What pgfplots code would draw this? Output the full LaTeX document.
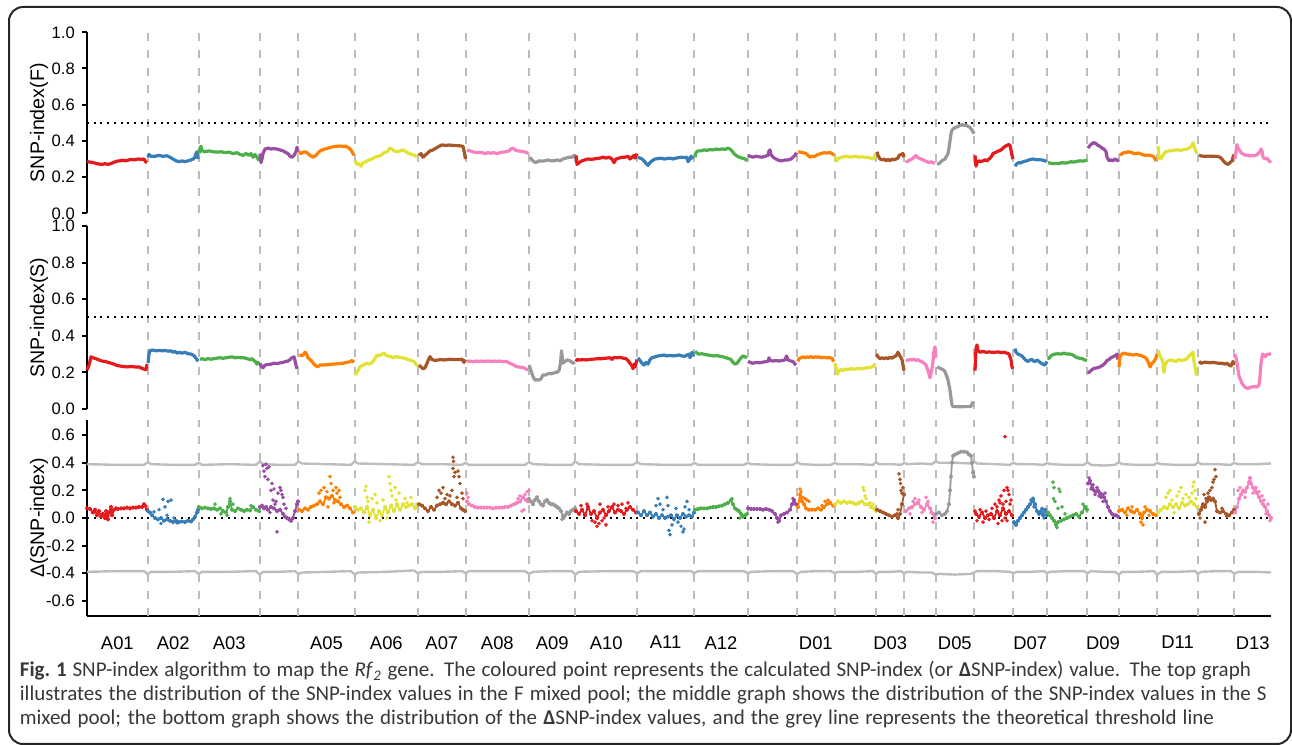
\documentclass[border=0pt]{standalone}
\usepackage{pgfplots}
\pgfplotsset{compat=1.18}
\usepackage{fontspec}
\setmainfont{Liberation Sans}
\newfontfamily\capfont{Carlito}
\definecolor{c1}{HTML}{E41A1C}
\definecolor{c2}{HTML}{377EB8}
\definecolor{c3}{HTML}{4DAF4A}
\definecolor{c4}{HTML}{984EA3}
\definecolor{c5}{HTML}{FF7F00}
\definecolor{c6}{HTML}{E2E234}
\definecolor{c7}{HTML}{A65628}
\definecolor{c8}{HTML}{F781BF}
\definecolor{c9}{HTML}{999999}
\definecolor{gridgrey}{HTML}{BDBDBD}
\definecolor{capgrey}{HTML}{383838}
\pgfplotsset{
  panel/.style={
    scale only axis, width=592pt, xmin=0, xmax=1184,
    axis y line*=left, axis x line*=bottom,
    y axis line style={-, line width=1pt},
    x axis line style={-, line width=1pt},
    tick align=outside, major tick length=2.6pt,
    every tick/.style={line width=1pt, black},
    tick label style={font=\fontsize{8.3}{10}\selectfont},
    ylabel style={font=\fontsize{9.8}{12}\selectfont, at={(axis description cs:-0.0405,0.5)}, anchor=center},
    xtick=\empty,
    extra x ticks={60.7,111.7,172.7,211.3,267.7,331,378.7,442,488.3,550,607.3,660.7,710,747.7,789,817.3,848.7,887,926.3,960,1000.3,1031.7,1070.3,1111,1147.3},
    extra x tick labels={},
    extra x tick style={grid=major, major tick length=0pt},
    major grid style={gridgrey, line width=1pt, dash pattern=on 4pt off 4.6pt},
    clip=false,
  },
  fl/.style={line width=1.6pt, line join=round, no markers},
  dcore/.style={line width=0.9pt, mark=*, mark size=0.65pt, line join=round},
  dout/.style={only marks, mark=*, mark size=0.7pt},
  refl/.style={black, line width=1pt, dash pattern=on 1pt off 2.35pt},
  thr/.style={gridgrey, line width=1.2pt, line join=round, no markers},
}
\begin{document}
\begin{tikzpicture}
\useasboundingbox (0,0) rectangle (646pt,372.5pt);
\draw[line width=1pt, rounded corners=7pt, black!85] (4.5pt,0.5pt) rectangle (645.5pt,369pt);
% ---------------- Panel 1: SNP-index(F)
\begin{axis}[panel, at={(43.5pt,265.85pt)}, anchor=south west, height=90.5pt,
  ymin=0, ymax=1, ytick={0,0.2,0.4,0.6,0.8,1}, yticklabels={0.0,0.2,0.4,0.6,0.8,1.0},
  ylabel={SNP-index(F)}, x axis line style={draw=none}]
\addplot[refl] coordinates {(0,0.5) (1184,0.5)};
\addplot[c1,fl] coordinates {(0,0.285) (3,0.283) (6,0.28) (9,0.276) (12,0.272) (15,0.27) (18,0.274) (21,0.27) (24,0.275) (27,0.282) (30,0.288) (33,0.29) (36,0.293) (39,0.29) (42,0.295) (45,0.297) (48,0.295) (51,0.3) (54,0.298) (57,0.3) (58.5,0.285) (60,0.28)};
\addplot[c2,fl] coordinates {(61,0.31) (62,0.325) (64,0.315) (68,0.315) (72,0.32) (76,0.315) (80,0.318) (83,0.31) (86,0.30) (89,0.29) (92,0.285) (95,0.29) (98,0.285) (101,0.29) (104,0.295) (106,0.30) (108,0.31) (109,0.33) (110,0.34) (111,0.30)};
\addplot[c3,fl] coordinates {(112,0.33) (113,0.36) (114,0.37) (115,0.345) (118,0.34) (122,0.345) (126,0.34) (130,0.338) (134,0.34) (138,0.335) (142,0.338) (146,0.33) (150,0.335) (153,0.325) (156,0.32) (159,0.33) (162,0.32) (164,0.33) (166,0.31) (168,0.325) (170,0.31) (172,0.29)};
\addplot[c4,fl] coordinates {(173,0.33) (174,0.28) (175,0.30) (176,0.33) (178,0.355) (181,0.36) (184,0.355) (187,0.357) (190,0.355) (193,0.35) (196,0.345) (199,0.335) (201,0.33) (203,0.315) (205,0.31) (207,0.32) (209,0.34) (210,0.365) (211,0.34)};
\addplot[c5,fl] coordinates {(212,0.34) (214,0.33) (217,0.34) (220,0.335) (223,0.32) (226,0.31) (229,0.32) (232,0.34) (235,0.35) (238,0.355) (241,0.36) (244,0.365) (247,0.368) (250,0.37) (253,0.372) (256,0.37) (259,0.37) (262,0.36) (264,0.35) (266,0.33) (267,0.32)};
\addplot[c6,fl] coordinates {(268,0.29) (270,0.27) (272,0.275) (274,0.26) (276,0.28) (279,0.285) (282,0.295) (285,0.30) (288,0.31) (291,0.315) (294,0.32) (297,0.335) (300,0.34) (303,0.36) (305,0.355) (307,0.345) (310,0.34) (313,0.345) (316,0.35) (319,0.34) (322,0.33) (325,0.325) (328,0.32) (330,0.31)};
\addplot[c7,fl] coordinates {(332,0.32) (334,0.33) (336,0.31) (338,0.32) (340,0.33) (343,0.345) (346,0.35) (349,0.36) (352,0.37) (355,0.378) (358,0.375) (362,0.377) (366,0.375) (370,0.374) (374,0.372) (376,0.37) (377,0.345) (378.5,0.30)};
\addplot[c8,fl] coordinates {(380,0.35) (383,0.345) (386,0.34) (389,0.335) (392,0.338) (395,0.335) (398,0.33) (401,0.335) (404,0.332) (407,0.335) (410,0.33) (413,0.335) (416,0.338) (419,0.34) (422,0.345) (424,0.355) (426,0.36) (428,0.35) (431,0.345) (434,0.342) (437,0.34) (440,0.335) (441.5,0.33)};
\addplot[c9,fl] coordinates {(443,0.31) (445,0.295) (447,0.285) (449,0.28) (452,0.29) (455,0.288) (458,0.29) (461,0.295) (464,0.29) (467,0.29) (470,0.295) (473,0.29) (476,0.30) (479,0.305) (482,0.31) (485,0.31) (487,0.32) (488,0.305)};
\addplot[c1,fl] coordinates {(489,0.32) (490,0.27) (492,0.28) (495,0.29) (498,0.295) (501,0.30) (504,0.298) (507,0.30) (510,0.303) (513,0.305) (516,0.31) (519,0.305) (522,0.31) (525,0.30) (527,0.28) (529,0.30) (532,0.305) (535,0.31) (538,0.31) (541,0.315) (543,0.30) (545,0.31) (547,0.32) (548,0.305) (550,0.33)};
\addplot[c2,fl] coordinates {(551,0.31) (553,0.305) (555,0.30) (557,0.29) (559,0.275) (561,0.265) (563,0.28) (565,0.29) (568,0.30) (571,0.302) (574,0.305) (577,0.30) (580,0.302) (583,0.305) (586,0.30) (589,0.305) (592,0.308) (595,0.31) (598,0.308) (600,0.31) (601,0.285) (603,0.30) (604,0.315) (606,0.30)};
\addplot[c3,fl] coordinates {(608,0.31) (609,0.335) (611,0.345) (614,0.345) (617,0.35) (620,0.348) (623,0.352) (626,0.35) (629,0.355) (632,0.352) (635,0.356) (638,0.353) (641,0.36) (643,0.355) (645,0.345) (647,0.33) (649,0.32) (652,0.31) (655,0.305) (658,0.30) (660,0.29)};
\addplot[c4,fl] coordinates {(661,0.32) (663,0.315) (666,0.31) (669,0.315) (672,0.312) (675,0.31) (678,0.315) (681,0.32) (682,0.345) (683,0.35) (684,0.325) (686,0.31) (689,0.30) (692,0.292) (695,0.29) (698,0.295) (701,0.295) (704,0.30) (706,0.31) (708,0.32) (709.5,0.335)};
\addplot[c5,fl] coordinates {(711,0.34) (713,0.338) (716,0.335) (719,0.33) (721,0.32) (723,0.31) (725,0.315) (728,0.315) (731,0.325) (734,0.33) (737,0.335) (740,0.333) (743,0.335) (745,0.33) (747,0.32)};
\addplot[c6,fl] coordinates {(748,0.31) (749.5,0.29) (751,0.30) (754,0.31) (757,0.312) (760,0.315) (763,0.31) (766,0.312) (769,0.315) (772,0.31) (775,0.312) (778,0.31) (781,0.308) (784,0.305) (786,0.30) (787.5,0.31) (788.5,0.33)};
\addplot[c7,fl] coordinates {(790,0.34) (791,0.32) (793,0.30) (795,0.295) (797,0.30) (799,0.29) (801,0.298) (803,0.29) (805,0.30) (807,0.295) (809,0.30) (811,0.305) (812,0.32) (814,0.325) (816,0.33) (817,0.31)};
\addplot[c8,fl] coordinates {(819,0.28) (821,0.29) (823,0.295) (825,0.30) (827,0.31) (829,0.32) (830,0.31) (832,0.305) (834,0.30) (836,0.295) (838,0.29) (840,0.285) (842,0.28) (844,0.285) (846,0.28) (848,0.275)};
\addplot[c9,fl] coordinates {(850,0.27) (852,0.275) (854,0.285) (856,0.295) (858,0.30) (860,0.32) (861,0.33) (862,0.36) (863,0.40) (864,0.44) (865,0.46) (867,0.47) (869,0.475) (871,0.48) (873,0.485) (875,0.49) (877,0.485) (879,0.488) (881,0.48) (883,0.475) (885,0.46) (886,0.45) (887,0.44)};
\addplot[c1,fl] coordinates {(888,0.32) (889,0.26) (890,0.28) (892,0.29) (894,0.285) (896,0.29) (898,0.295) (900,0.29) (902,0.30) (904,0.31) (906,0.33) (908,0.335) (910,0.34) (912,0.345) (914,0.35) (916,0.36) (918,0.37) (920,0.375) (921.5,0.38) (923,0.375) (924,0.35) (925,0.32) (926,0.30)};
\addplot[c2,fl] coordinates {(928,0.26) (930,0.275) (932,0.28) (934,0.278) (936,0.285) (938,0.288) (940,0.29) (942,0.295) (944,0.298) (946,0.30) (948,0.298) (950,0.295) (952,0.297) (954,0.295) (956,0.293) (958,0.29) (959.5,0.285)};
\addplot[c3,fl] coordinates {(961,0.28) (963,0.277) (966,0.275) (969,0.276) (972,0.275) (975,0.28) (978,0.277) (981,0.28) (984,0.285) (987,0.283) (990,0.287) (993,0.29) (996,0.288) (999,0.292) (1000,0.295)};
\addplot[c4,fl] coordinates {(1001,0.36) (1003,0.375) (1005,0.385) (1007,0.39) (1009,0.385) (1011,0.375) (1013,0.37) (1015,0.36) (1017,0.355) (1019,0.34) (1020,0.31) (1022,0.29) (1024,0.295) (1026,0.29) (1028,0.30) (1030,0.295) (1031,0.285)};
\addplot[c5,fl] coordinates {(1033,0.32) (1035,0.33) (1037,0.335) (1039,0.335) (1041,0.34) (1043,0.338) (1045,0.335) (1047,0.33) (1049,0.33) (1051,0.333) (1053,0.33) (1055,0.325) (1057,0.322) (1059,0.32) (1061,0.322) (1063,0.32) (1065,0.318) (1067,0.31) (1069,0.29)};
\addplot[c6,fl] coordinates {(1071,0.37) (1072,0.32) (1073,0.30) (1075,0.31) (1077,0.33) (1079,0.34) (1082,0.345) (1085,0.345) (1088,0.35) (1091,0.35) (1094,0.348) (1097,0.352) (1100,0.355) (1102,0.36) (1104,0.37) (1105,0.375) (1106,0.39) (1107,0.37) (1108,0.355) (1110,0.33)};
\addplot[c7,fl] coordinates {(1112,0.32) (1115,0.316) (1118,0.315) (1121,0.316) (1124,0.315) (1127,0.315) (1130,0.314) (1133,0.31) (1135,0.30) (1137,0.285) (1139,0.275) (1141,0.27) (1143,0.28) (1145,0.29) (1146,0.31) (1147,0.325)};
\addplot[c8,fl] coordinates {(1148,0.30) (1149,0.34) (1150,0.38) (1151,0.36) (1153,0.345) (1155,0.33) (1157,0.325) (1159,0.32) (1161,0.322) (1163,0.315) (1165,0.32) (1167,0.318) (1169,0.32) (1171,0.33) (1173,0.34) (1174,0.355) (1175,0.345) (1176,0.31) (1178,0.30) (1180,0.305) (1182,0.29) (1184,0.28)};
\end{axis}
% ---------------- Panel 2: SNP-index(S)
\begin{axis}[panel, at={(43.5pt,168pt)}, anchor=south west, height=91.5pt,
  ymin=0, ymax=1, ytick={0,0.2,0.4,0.6,0.8,1}, yticklabels={0.0,0.2,0.4,0.6,0.8,1.0},
  ylabel={SNP-index(S)}, x axis line style={draw=none}]
\addplot[refl] coordinates {(0,0.5) (1184,0.5)};
\addplot[c1,fl] coordinates {(0,0.213) (2,0.24) (4,0.285) (6,0.28) (9,0.275) (12,0.268) (15,0.262) (18,0.26) (21,0.255) (24,0.25) (27,0.245) (30,0.238) (33,0.235) (36,0.232) (40,0.23) (44,0.232) (48,0.23) (52,0.23) (55,0.222) (57,0.218) (59,0.215) (60,0.245)};
\addplot[c2,fl] coordinates {(61,0.25) (62,0.30) (63,0.32) (66,0.322) (69,0.318) (72,0.32) (75,0.318) (78,0.32) (81,0.316) (84,0.318) (86,0.31) (88,0.315) (90,0.305) (92,0.31) (95,0.305) (98,0.31) (101,0.302) (104,0.30) (106,0.295) (108,0.285) (110,0.27) (111,0.26)};
\addplot[c3,fl] coordinates {(113,0.27) (115,0.275) (118,0.27) (121,0.275) (124,0.272) (127,0.275) (130,0.278) (133,0.28) (136,0.277) (139,0.28) (142,0.283) (145,0.285) (148,0.28) (151,0.282) (154,0.28) (157,0.28) (160,0.275) (163,0.27) (165,0.275) (167,0.265) (169,0.255) (170,0.245) (172,0.26)};
\addplot[c4,fl] coordinates {(173,0.25) (174,0.235) (176,0.225) (178,0.24) (181,0.243) (184,0.245) (187,0.25) (190,0.248) (193,0.252) (196,0.255) (199,0.26) (201,0.262) (203,0.27) (205,0.28) (207,0.285) (208,0.265) (209,0.24) (210,0.22)};
\addplot[c5,fl] coordinates {(213,0.30) (214,0.29) (216,0.295) (218,0.31) (219,0.305) (221,0.28) (223,0.27) (225,0.26) (227,0.245) (229,0.235) (231,0.232) (233,0.24) (236,0.24) (240,0.242) (244,0.244) (248,0.246) (252,0.248) (256,0.25) (260,0.255) (263,0.258) (265,0.265) (267,0.255)};
\addplot[c6,fl] coordinates {(268,0.186) (270,0.20) (273,0.23) (276,0.24) (280,0.25) (283,0.245) (286,0.26) (288,0.275) (290,0.295) (292,0.29) (295,0.30) (297,0.304) (300,0.29) (303,0.288) (306,0.28) (309,0.286) (312,0.283) (315,0.28) (318,0.277) (321,0.27) (324,0.265) (327,0.26) (329,0.245) (331,0.235)};
\addplot[c7,fl] coordinates {(332,0.24) (334,0.23) (336,0.22) (338,0.225) (340,0.25) (342,0.275) (343,0.286) (345,0.27) (348,0.265) (351,0.268) (354,0.27) (357,0.268) (360,0.27) (363,0.272) (366,0.27) (369,0.271) (372,0.27) (375,0.272) (377,0.255) (378.5,0.27)};
\addplot[c8,fl] coordinates {(380,0.26) (383,0.262) (386,0.258) (389,0.262) (392,0.26) (395,0.262) (398,0.26) (401,0.263) (404,0.26) (407,0.262) (410,0.26) (413,0.262) (416,0.258) (419,0.26) (421,0.255) (423,0.25) (425,0.245) (427,0.24) (429,0.232) (431,0.23) (434,0.228) (437,0.225) (440,0.215) (441,0.212)};
\addplot[c9,fl] coordinates {(442,0.24) (444,0.21) (446,0.177) (448,0.158) (450,0.16) (452,0.158) (454,0.165) (456,0.186) (458,0.185) (460,0.19) (462,0.195) (464,0.192) (466,0.195) (468,0.2) (470,0.2) (472,0.21) (473.5,0.25) (474.5,0.318) (476,0.25) (478,0.26) (480,0.268) (482,0.265) (484,0.26) (486,0.25) (488,0.255)};
\addplot[c1,fl] coordinates {(489,0.26) (490,0.27) (493,0.268) (496,0.27) (499,0.268) (502,0.27) (505,0.272) (508,0.273) (511,0.275) (514,0.274) (517,0.277) (520,0.278) (523,0.28) (525,0.27) (527,0.282) (530,0.28) (533,0.282) (536,0.278) (539,0.275) (541,0.265) (543,0.25) (545,0.235) (546,0.22) (547,0.245) (548,0.23) (550,0.27)};
\addplot[c2,fl] coordinates {(551,0.28) (553,0.265) (555,0.25) (557,0.24) (559,0.255) (561,0.245) (563,0.27) (565,0.28) (568,0.285) (571,0.29) (574,0.292) (577,0.295) (580,0.29) (583,0.293) (586,0.29) (589,0.292) (592,0.295) (595,0.29) (598,0.288) (600,0.295) (602,0.30) (603,0.28) (605,0.31) (606,0.295) (607,0.30)};
\addplot[c3,fl] coordinates {(608,0.315) (610,0.305) (612,0.30) (615,0.302) (618,0.298) (621,0.295) (624,0.292) (627,0.29) (630,0.292) (633,0.288) (636,0.285) (639,0.28) (642,0.275) (644,0.27) (646,0.255) (648,0.245) (650,0.25) (652,0.265) (654,0.28) (656,0.29) (658,0.285) (660,0.28)};
\addplot[c4,fl] coordinates {(661,0.26) (663,0.255) (666,0.25) (669,0.255) (672,0.252) (675,0.255) (678,0.258) (681,0.26) (682,0.28) (683,0.265) (686,0.262) (689,0.265) (692,0.262) (695,0.265) (698,0.268) (699.5,0.29) (701,0.268) (704,0.262) (706,0.26) (708,0.245) (709,0.24)};
\addplot[c5,fl] coordinates {(711,0.26) (712,0.275) (714,0.28) (716,0.285) (718,0.28) (720,0.285) (722,0.282) (724,0.286) (726,0.28) (728,0.285) (730,0.283) (732,0.285) (734,0.28) (737,0.282) (740,0.28) (743,0.28) (745,0.278) (746,0.265) (747,0.26)};
\addplot[c6,fl] coordinates {(748,0.25) (749,0.225) (750.5,0.19) (752,0.21) (754,0.215) (756,0.21) (758,0.218) (761,0.215) (764,0.22) (767,0.218) (770,0.22) (773,0.222) (776,0.22) (779,0.225) (782,0.225) (785,0.23) (787,0.235) (788,0.25)};
\addplot[c7,fl] coordinates {(789.5,0.30) (791,0.285) (793,0.275) (795,0.28) (797,0.275) (799,0.28) (801,0.275) (803,0.283) (805,0.278) (807,0.285) (809,0.29) (811,0.31) (813,0.29) (815,0.27) (817,0.21)};
\addplot[c8,fl] coordinates {(819,0.27) (821,0.265) (823,0.27) (825,0.268) (827,0.272) (829,0.265) (831,0.27) (833,0.262) (835,0.258) (837,0.25) (839,0.24) (841,0.21) (843,0.17) (845,0.22) (846,0.26) (847,0.32) (848,0.34) (849,0.28)};
\addplot[c9,fl] coordinates {(850,0.23) (852,0.225) (854,0.22) (856,0.215) (858,0.204) (860,0.175) (861,0.158) (862,0.13) (863,0.104) (864,0.06) (865,0.022) (866,0.013) (870,0.013) (874,0.012) (878,0.013) (882,0.013) (884,0.015) (886,0.04)};
\addplot[c1,fl] coordinates {(888,0.21) (889,0.33) (890,0.35) (891,0.32) (893,0.31) (896,0.315) (899,0.31) (902,0.312) (905,0.31) (908,0.31) (911,0.312) (914,0.308) (917,0.31) (920,0.305) (922,0.30) (924,0.27) (925,0.23) (926,0.22)};
\addplot[c2,fl] coordinates {(928,0.33) (929,0.31) (931,0.30) (933,0.295) (935,0.29) (937,0.277) (939,0.265) (941,0.26) (943,0.268) (945,0.27) (947,0.26) (949,0.262) (950,0.268) (952,0.26) (954,0.25) (956,0.245) (958,0.24) (960,0.26)};
\addplot[c3,fl] coordinates {(961,0.27) (963,0.285) (965,0.295) (968,0.30) (971,0.302) (974,0.30) (977,0.305) (980,0.30) (983,0.30) (986,0.295) (989,0.283) (992,0.278) (995,0.275) (998,0.268) (1000,0.265)};
\addplot[c4,fl] coordinates {(1001,0.195) (1003,0.205) (1005,0.215) (1007,0.222) (1010,0.225) (1013,0.23) (1016,0.24) (1018,0.25) (1020,0.265) (1022,0.27) (1024,0.28) (1026,0.286) (1028,0.29) (1030,0.30) (1031,0.27)};
\addplot[c5,fl] coordinates {(1032,0.23) (1033,0.29) (1035,0.30) (1037,0.305) (1040,0.30) (1043,0.298) (1046,0.295) (1049,0.298) (1052,0.295) (1055,0.29) (1057,0.285) (1059,0.278) (1061,0.26) (1063,0.23) (1065,0.25) (1067,0.26) (1069,0.28) (1070,0.30)};
\addplot[c6,fl] coordinates {(1071,0.32) (1073,0.29) (1075,0.27) (1076,0.25) (1077,0.2) (1078,0.24) (1080,0.26) (1083,0.268) (1086,0.265) (1089,0.26) (1092,0.27) (1095,0.265) (1098,0.27) (1100,0.275) (1102,0.29) (1104,0.30) (1106,0.31) (1107,0.26) (1109,0.2) (1110,0.18)};
\addplot[c7,fl] coordinates {(1112,0.26) (1114,0.25) (1117,0.255) (1120,0.255) (1123,0.253) (1126,0.255) (1129,0.252) (1132,0.25) (1135,0.25) (1138,0.245) (1140,0.25) (1142,0.24) (1144,0.235) (1146,0.26) (1147,0.24)};
\addplot[c8,fl] coordinates {(1148,0.30) (1149,0.28) (1150,0.25) (1152,0.18) (1155,0.14) (1158,0.118) (1161,0.113) (1164,0.12) (1167,0.122) (1170,0.12) (1172,0.13) (1173,0.18) (1174,0.25) (1175.5,0.30) (1177,0.295) (1178.5,0.286) (1180,0.30) (1182,0.298) (1184,0.304)};
\end{axis}
% ---------------- Panel 3: Delta(SNP-index)
\begin{axis}[panel, at={(43.5pt,64.5pt)}, anchor=south west, height=98pt,
  ymin=-0.71, ymax=0.71, ytick={-0.6,-0.4,-0.2,0,0.2,0.4,0.6}, yticklabels={-0.6,-0.4,-0.2,0.0,0.2,0.4,0.6},
  ylabel={Δ(SNP-index)},
  xtick={30.35,86.2,142.2,239.5,299.35,354.85,410.35,465.15,519.15,578.65,634,728.85,803.15,867.85,943.15,1016,1090.65,1165.65},
  xticklabels={A01,A02,A03,A05,A06,A07,A08,A09,A10,A11,A12,D01,D03,D05,D07,D09,D11,D13},
  xtick style={draw=none},
  xticklabel style={font=\fontsize{9.2}{11}\selectfont, yshift=-4pt}]
\addplot[thr] coordinates {(0,0.39) (30,0.385) (57,0.385) (60.7,0.405) (64,0.39) (86,0.385) (108,0.385) (111.7,0.4) (115,0.385) (142,0.39) (169,0.385) (172.7,0.41) (176,0.39) (192,0.385) (208,0.385) (211.3,0.41) (215,0.395) (240,0.39) (264,0.385) (267.7,0.41) (271,0.395) (300,0.39) (327,0.385) (331,0.405) (335,0.39) (355,0.39) (375,0.385) (378.7,0.4) (382,0.385) (410,0.385) (438,0.385) (442,0.405) (446,0.39) (465,0.385) (485,0.385) (488.3,0.41) (492,0.39) (520,0.385) (546,0.385) (550,0.405) (554,0.39) (580,0.385) (604,0.385) (607.3,0.4) (611,0.385) (635,0.385) (657,0.385) (660.7,0.4) (664,0.39) (685,0.385) (706,0.385) (710,0.405) (714,0.39) (730,0.385) (744,0.385) (747.7,0.4) (751,0.39) (770,0.39) (786,0.385) (789,0.405) (792,0.39) (805,0.39) (814,0.385) (817.3,0.4) (820,0.39) (835,0.395) (845,0.39) (848.7,0.41) (852,0.4) (868,0.4) (884,0.395) (887,0.41) (890,0.395) (908,0.39) (923,0.385) (926.3,0.4) (930,0.39) (945,0.39) (957,0.385) (960,0.4) (963,0.39) (980,0.385) (997,0.385) (1000.3,0.405) (1004,0.385) (1017,0.38) (1028,0.385) (1031.7,0.405) (1035,0.39) (1050,0.385) (1067,0.385) (1070.3,0.4) (1074,0.39) (1090,0.385) (1108,0.385) (1111,0.405) (1114,0.39) (1130,0.39) (1144,0.385) (1147.3,0.4) (1151,0.39) (1170,0.39) (1184,0.395)};
\addplot[thr] coordinates {(0,-0.39) (30,-0.385) (57,-0.385) (60.7,-0.405) (64,-0.39) (86,-0.39) (108,-0.385) (111.7,-0.405) (115,-0.39) (142,-0.39) (169,-0.385) (172.7,-0.41) (176,-0.39) (192,-0.39) (208,-0.385) (211.3,-0.405) (215,-0.395) (240,-0.39) (264,-0.385) (267.7,-0.41) (271,-0.395) (300,-0.39) (327,-0.38) (331,-0.4) (335,-0.39) (355,-0.39) (375,-0.385) (378.7,-0.4) (382,-0.385) (410,-0.385) (438,-0.385) (442,-0.405) (446,-0.39) (465,-0.385) (485,-0.385) (488.3,-0.41) (492,-0.39) (520,-0.385) (546,-0.385) (550,-0.4) (554,-0.385) (580,-0.385) (604,-0.385) (607.3,-0.4) (611,-0.385) (635,-0.385) (657,-0.385) (660.7,-0.4) (664,-0.39) (685,-0.385) (706,-0.385) (710,-0.405) (714,-0.39) (730,-0.385) (744,-0.385) (747.7,-0.4) (751,-0.39) (770,-0.39) (786,-0.385) (789,-0.405) (792,-0.39) (805,-0.39) (814,-0.385) (817.3,-0.4) (820,-0.39) (835,-0.395) (845,-0.395) (848.7,-0.41) (852,-0.405) (868,-0.41) (884,-0.405) (887,-0.395) (890,-0.385) (908,-0.385) (923,-0.39) (926.3,-0.4) (930,-0.39) (945,-0.39) (957,-0.385) (960,-0.4) (963,-0.39) (980,-0.385) (997,-0.385) (1000.3,-0.4) (1004,-0.385) (1017,-0.39) (1028,-0.39) (1031.7,-0.41) (1035,-0.39) (1050,-0.39) (1067,-0.385) (1070.3,-0.41) (1074,-0.39) (1090,-0.39) (1108,-0.385) (1111,-0.405) (1114,-0.39) (1130,-0.385) (1144,-0.385) (1147.3,-0.405) (1151,-0.39) (1170,-0.39) (1184,-0.395)};
\addplot[refl] coordinates {(0,0) (1184,0)};
% A01
\addplot[c1,dcore] coordinates {(0,0.07) (3,0.065) (6,0.04) (8,0.06) (10,0.02) (12,0.05) (14,0.01) (16,0.03) (18,0.0) (19,0.05) (21,-0.01) (22,0.04) (24,0.08) (25,0.02) (27,0.06) (29,0.07) (31,0.065) (34,0.07) (37,0.07) (40,0.075) (43,0.07) (46,0.075) (49,0.075) (52,0.08) (55,0.08) (57,0.1) (58,0.09) (60,0.06)};
% A02
\addplot[c2,dcore] coordinates {(61,0.05) (63,0.04) (65,0.02) (68,0.0) (71,-0.01) (74,0.0) (77,-0.02) (80,-0.01) (83,-0.02) (86,-0.03) (89,-0.02) (92,-0.03) (95,-0.025) (98,-0.03) (101,-0.02) (104,-0.025) (106,-0.01) (108,0.01) (110,0.04) (111,0.06)};
\addplot[c2,dout] coordinates {(67,0.045) (72,0.06) (76,0.135) (78,0.08) (80,0.02) (81,0.12) (84,0.13) (87,0.0) (90,-0.035) (74,-0.04)};
% A03
\addplot[c3,dcore] coordinates {(112,0.08) (115,0.07) (118,0.075) (121,0.07) (124,0.065) (127,0.07) (130,0.06) (133,0.07) (136,0.05) (139,0.04) (141,0.08) (143,0.12) (145,0.06) (148,0.05) (151,0.07) (154,0.06) (157,0.05) (160,0.06) (163,0.055) (166,0.08) (169,0.06) (172,0.05)};
\addplot[c3,dout] coordinates {(143,0.14) (140,0.02) (146,0.1) (164,0.09) (134,0.03) (128,0.1)};
% A04
\addplot[c4,dcore] coordinates {(173,0.08) (175,0.09) (177,0.07) (179,0.08) (181,0.06) (184,0.08) (187,0.07) (190,0.05) (193,0.06) (196,0.03) (198,0.01) (200,0.0) (202,-0.01) (204,-0.02) (206,0.0) (208,0.05) (210,0.1) (211,0.12)};
\addplot[c4,dout] coordinates {(176,0.38) (177,0.34) (178,0.3) (179,0.39) (180,0.36) (181,0.28) (182,0.37) (184,0.2) (185,0.25) (186,0.13) (187,0.21) (188,0.1) (189,0.12) (190,-0.1) (191,0.18) (193,0.22) (194,0.2) (195,0.17) (196,0.15) (197,0.1) (199,0.07) (183,0.04)};
% A05
\addplot[c5,dcore] coordinates {(212,0.06) (215,0.05) (218,0.07) (221,0.06) (224,0.08) (227,0.09) (230,0.1) (233,0.12) (236,0.1) (239,0.15) (242,0.14) (245,0.16) (248,0.13) (251,0.12) (254,0.1) (257,0.08) (260,0.09) (263,0.07) (266,0.04)};
\addplot[c5,dout] coordinates {(232,0.18) (234,0.2) (237,0.22) (240,0.19) (243,0.3) (244,0.25) (246,0.2) (249,0.22) (250,0.18) (252,0.2) (247,0.11) (241,0.08) (253,0.15)};
% A06
\addplot[c6,dcore] coordinates {(268,0.08) (271,0.06) (274,0.07) (277,0.04) (280,0.08) (283,0.02) (286,0.06) (289,0.0) (292,0.05) (295,0.02) (298,0.08) (301,0.04) (304,0.09) (307,0.05) (310,0.1) (313,0.06) (316,0.1) (319,0.08) (322,0.09) (325,0.1) (328,0.07) (330,0.1)};
\addplot[c6,dout] coordinates {(278,0.2) (279,0.23) (280,0.15) (281,0.12) (285,0.14) (288,0.17) (290,0.11) (296,0.13) (302,0.3) (303,0.25) (304,0.2) (305,0.16) (308,0.22) (309,0.13) (312,0.18) (318,0.14) (320,0.11) (324,0.15) (282,-0.03) (293,-0.02) (300,0.0)};
% A07
\addplot[c7,dcore] coordinates {(332,0.1) (335,0.09) (338,0.07) (341,0.05) (344,0.08) (347,0.06) (350,0.09) (353,0.1) (356,0.11) (359,0.1) (362,0.12) (365,0.1) (368,0.09) (371,0.11) (374,0.07) (376,0.06) (378,0.05)};
\addplot[c7,dout] coordinates {(350,0.15) (352,0.2) (354,0.18) (356,0.22) (358,0.14) (360,0.17) (363,0.16) (365,0.2) (366,0.44) (366.5,0.41) (366,0.36) (367,0.3) (368,0.33) (371,0.34) (372,0.3) (373,0.25) (370,0.15) (375,0.18) (376,0.14)};
% A08
\addplot[c8,dcore] coordinates {(380,0.12) (382,0.1) (385,0.09) (388,0.08) (391,0.075) (394,0.075) (397,0.075) (400,0.075) (403,0.075) (406,0.07) (409,0.075) (412,0.075) (415,0.075) (418,0.08) (421,0.08) (424,0.09) (427,0.1) (430,0.11) (433,0.12) (436,0.15) (439,0.13) (441,0.12)};
\addplot[c8,dout] coordinates {(380,0.18) (381,0.15) (435,0.05) (437,0.06) (438,0.17) (440,0.19) (442,0.2) (433,0.16) (431,0.14)};
% A09
\addplot[c9,dcore] coordinates {(442,0.14) (444,0.12) (446,0.1) (448,0.13) (450,0.15) (452,0.12) (454,0.1) (456,0.09) (458,0.12) (460,0.13) (462,0.11) (464,0.1) (466,0.1) (468,0.09) (470,0.08) (472,0.07) (474,0.05) (476,0.01) (478,0.02) (480,0.04) (482,0.03) (484,0.05) (486,0.06) (488,0.07)};
\addplot[c9,dout] coordinates {(475,-0.01) (477,0.0)};
% A10
\addplot[c1,dcore] coordinates {(489,0.05) (492,0.03) (495,0.06) (498,0.02) (501,0.08) (504,0.03) (507,0.05) (510,0.0) (513,0.04) (516,0.06) (519,0.02) (522,0.05) (525,0.08) (528,0.04) (531,0.06) (534,0.05) (537,0.03) (540,0.06) (543,0.08) (546,0.06) (549,0.04)};
\addplot[c1,dout] coordinates {(494,0.09) (500,0.1) (505,-0.02) (508,-0.03) (510,-0.06) (512,-0.04) (513,0.1) (515,-0.02) (517,0.0) (519,-0.05) (521,0.08) (527,0.1) (531,0.09) (535,0.1) (539,0.07) (541,0.11)};
% A11
\addplot[c2,dcore] coordinates {(551,0.04) (554,0.02) (557,0.05) (560,0.02) (563,0.04) (566,0.01) (569,0.03) (572,0.0) (575,0.02) (578,0.0) (581,0.01) (584,0.02) (587,-0.01) (590,0.02) (593,0.0) (596,0.03) (599,0.01) (602,0.02) (605,0.01) (607,0.04)};
\addplot[c2,dout] coordinates {(569,0.09) (571,0.14) (573,0.1) (576,0.06) (580,0.15) (581,0.09) (582,-0.09) (583,-0.12) (585,-0.05) (589,0.07) (591,-0.03) (594,-0.06) (596,-0.1) (598,0.08) (600,0.12) (602,0.06) (597,-0.08)};
% A12
\addplot[c3,dcore] coordinates {(608,0.06) (611,0.065) (614,0.07) (617,0.07) (620,0.07) (623,0.075) (626,0.08) (629,0.08) (632,0.085) (635,0.09) (638,0.1) (641,0.11) (644,0.13) (646,0.1) (648,0.07) (650,0.06) (652,0.05) (654,0.03) (656,0.01) (658,0.02) (660,0.03)};
\addplot[c3,dout] coordinates {(645,0.14) (653,0.0)};
% A13
\addplot[c4,dcore] coordinates {(661,0.07) (664,0.065) (667,0.065) (670,0.065) (673,0.065) (676,0.06) (679,0.065) (682,0.06) (685,0.05) (688,0.03) (690,0.0) (692,-0.02) (694,0.02) (697,0.03) (700,0.04) (703,0.06) (705,0.1) (707,0.13) (709,0.1)};
\addplot[c4,dout] coordinates {(691,-0.03) (706,0.14)};
% D01
\addplot[c5,dcore] coordinates {(711,0.08) (713,0.17) (715,0.12) (717,0.1) (719,0.07) (722,0.06) (725,0.06) (728,0.06) (731,0.07) (734,0.06) (737,0.08) (740,0.1) (743,0.11) (746,0.09)};
\addplot[c5,dout] coordinates {(713,0.21) (714,0.19) (716,0.15) (718,0.14) (720,0.13) (722,0.12) (735,0.09) (738,0.12) (741,0.13)};
% D02
\addplot[c6,dcore] coordinates {(748,0.1) (751,0.12) (754,0.11) (757,0.12) (760,0.11) (763,0.115) (766,0.11) (769,0.1) (772,0.11) (775,0.12) (778,0.1) (781,0.1) (784,0.08) (787,0.07) (789,0.05)};
\addplot[c6,dout] coordinates {(776,0.22) (777,0.2) (778,0.16) (779,0.14) (783,0.11) (786,0.1)};
% D03
\addplot[c7,dcore] coordinates {(790,0.06) (793,0.05) (796,0.04) (799,0.03) (802,0.02) (805,0.01) (808,0.02) (811,0.0) (813,0.03) (815,0.1) (817,0.17)};
\addplot[c7,dout] coordinates {(812,0.32) (813,0.28) (813.5,0.25) (814,0.2) (815,0.18) (816,0.22) (810,0.03) (811,0.06)};
% D04
\addplot[c8,dcore] coordinates {(819,0.05) (822,0.07) (825,0.08) (828,0.1) (831,0.11) (834,0.08) (837,0.06) (840,0.1) (843,0.07) (846,0.03) (848,0.0)};
\addplot[c8,dout] coordinates {(823,0.03) (826,0.12) (828,0.14) (832,0.13) (835,0.04) (839,0.15) (841,0.12) (844,0.04) (846,-0.03) (847,0.02)};
% D05
\addplot[c9,dcore] coordinates {(849,0.03) (852,0.04) (855,0.02) (858,0.03) (860,0.05) (862,0.1) (863,0.2) (864,0.3) (865,0.4) (866,0.45) (868,0.46) (871,0.47) (874,0.48) (877,0.48) (880,0.475) (882,0.46) (884,0.45) (885,0.4) (886,0.33) (887,0.3)};
% D06
\addplot[c1,dcore] coordinates {(889,0.03) (892,0.01) (895,0.04) (898,0.0) (901,0.02) (904,0.03) (907,0.0) (910,0.05) (913,0.02) (916,0.07) (919,0.03) (922,0.05) (925,0.02)};
\addplot[c1,dout] coordinates {(888,0.05) (890,-0.02) (893,0.06) (896,-0.03) (899,0.05) (902,-0.01) (905,0.07) (908,0.1) (910,0.08) (912,0.13) (913,0.11) (914,0.16) (916,0.1) (917,0.2) (918,0.59) (919,0.12) (920,0.22) (921,0.2) (922,0.17) (923,0.1) (924,0.13) (911,-0.04) (915,-0.02) (918,0.0) (920,-0.02)};
% D07
\addplot[c2,dcore] coordinates {(927,-0.03) (929,-0.05) (931,-0.02) (933,0.0) (935,0.02) (937,0.04) (939,0.06) (941,0.08) (943,0.1) (945,0.12) (946,0.14) (948,0.1) (950,0.05) (952,0.03) (954,0.05) (956,0.02) (958,0.06) (960,0.02)};
\addplot[c2,dout] coordinates {(944,0.13) (947,0.08) (955,0.07) (957,0.0)};
% D08
\addplot[c3,dcore] coordinates {(961,0.04) (963,0.02) (965,0.0) (967,-0.02) (969,-0.05) (971,-0.03) (974,-0.02) (977,-0.01) (980,0.0) (983,0.01) (986,0.02) (989,0.03) (992,0.01) (995,0.04) (998,0.08) (1000,0.06)};
\addplot[c3,dout] coordinates {(966,0.26) (967,0.22) (966.5,0.14) (968,0.12) (972,0.21) (973,0.19) (971,0.07) (975,0.08) (970,-0.07) (978,0.03) (996,0.1)};
% D09
\addplot[c4,dcore] coordinates {(1001,0.25) (1003,0.27) (1005,0.22) (1007,0.2) (1009,0.19) (1011,0.2) (1013,0.18) (1015,0.17) (1017,0.15) (1019,0.12) (1021,0.08) (1023,0.05) (1025,0.03) (1027,0.02) (1029,0.02) (1031,0.01)};
\addplot[c4,dout] coordinates {(1002,0.29) (1004,0.21) (1006,0.24) (1008,0.17) (1010,0.22) (1012,0.16) (1014,0.15) (1016,0.12) (1018,0.18)};
% D10
\addplot[c5,dcore] coordinates {(1032,0.05) (1035,0.06) (1038,0.04) (1041,0.07) (1044,0.05) (1047,0.04) (1050,0.06) (1053,0.03) (1055,0.0) (1057,0.04) (1060,0.06) (1063,0.05) (1066,0.03) (1069,0.02)};
\addplot[c5,dout] coordinates {(1040,0.02) (1045,0.08) (1054,-0.03) (1056,-0.05) (1058,0.08) (1062,0.02)};
% D11
\addplot[c6,dcore] coordinates {(1071,0.04) (1074,0.06) (1077,0.08) (1080,0.07) (1083,0.1) (1086,0.08) (1089,0.1) (1092,0.07) (1095,0.11) (1098,0.09) (1101,0.1) (1104,0.12) (1107,0.1) (1110,0.08)};
\addplot[c6,dout] coordinates {(1079,0.15) (1081,0.18) (1083,0.2) (1085,0.13) (1090,0.16) (1092,0.19) (1094,0.22) (1096,0.14) (1099,0.17) (1102,0.15) (1105,0.18) (1106,0.23) (1107,0.26) (1108,0.2) (1109,0.14) (1087,0.04)};
% D12
\addplot[c7,dcore] coordinates {(1112,0.03) (1114,0.06) (1116,0.1) (1118,0.08) (1120,0.12) (1122,0.15) (1124,0.13) (1126,0.14) (1128,0.12) (1130,0.05) (1133,0.04) (1136,0.05) (1139,0.03) (1142,0.02) (1145,0.04) (1147,0.06)};
\addplot[c7,dout] coordinates {(1113,0.0) (1115,0.08) (1117,0.17) (1119,0.14) (1121,0.18) (1123,0.2) (1125,0.22) (1126,0.26) (1127,0.28) (1128,0.35) (1129,0.3) (1118,-0.03) (1135,0.07) (1140,0.01)};
% D13
\addplot[c8,dcore] coordinates {(1148,0.04) (1150,0.08) (1152,0.14) (1154,0.17) (1156,0.2) (1158,0.19) (1160,0.22) (1162,0.26) (1163,0.29) (1164,0.25) (1166,0.22) (1168,0.2) (1170,0.18) (1172,0.15) (1174,0.12) (1176,0.1) (1178,0.08) (1180,0.05) (1182,0.02) (1184,0.0)};
\addplot[c8,dout] coordinates {(1151,0.2) (1153,0.22) (1158,0.15) (1166,0.18) (1169,0.22) (1172,0.19) (1175,0.16) (1177,0.13) (1179,0.03) (1181,0.1) (1183,-0.02)};
\end{axis}
% ---------------- Caption
\begin{scope}[every node/.style={anchor=base west, inner sep=0pt, text=capgrey, font=\capfont\fontsize{10.5}{12}\selectfont}]
\node at (9.75pt,34pt) {\makebox[615.5pt][s]{\textbf{Fig.~1} SNP-index algorithm to map the \textit{Rf}\textsubscript{\textit{2}} gene. The coloured point represents the calculated SNP-index (or \textbf{Δ}SNP-index) value. The top graph}};
\node at (9.75pt,22pt) {\makebox[623.5pt][s]{illustrates the distribution of the SNP-index values in the F mixed pool; the middle graph shows the distribution of the SNP-index values in the S}};
\node at (9.75pt,10pt) {\makebox[597pt][s]{mixed pool; the bottom graph shows the distribution of the \textbf{Δ}SNP-index values, and the grey line represents the theoretical threshold line}};
\end{scope}
\end{tikzpicture}
\end{document}
